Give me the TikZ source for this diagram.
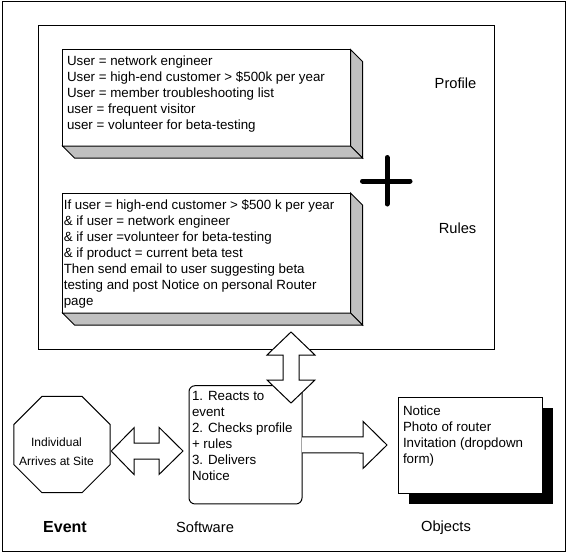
\documentclass[tikz,border=0pt]{standalone}
\usepackage{fontspec}
\setmainfont{Liberation Sans}
\usetikzlibrary{shapes.geometric,positioning,calc,shadows}

\definecolor{facegray}{HTML}{C0C0C0}

\tikzset{
  box/.style={draw, fill=white, anchor=north west, inner sep=0pt, outer sep=0pt},
  face/.style={draw, fill=facegray, line join=miter},
  txt/.style={anchor=north west, inner sep=0pt, align=left, font=\fontsize{10pt}{12pt}\selectfont},
  heading/.style={inner sep=0pt, font=\fontsize{11pt}{13pt}\selectfont},
  blockarrow/.style={draw, fill=white, line join=miter},
}

\begin{document}
\begin{tikzpicture}[x=0.75pt, y=-0.75pt, line width=0.75pt]
    \useasboundingbox (0,0) rectangle (567,554);

    % frames
    \draw (2.5,1.5) rectangle (565.5,551.5);
    \node[box, minimum width=342pt, minimum height=243pt] (db) at (38.5,25.5) {};

    % profile
    \node[box, minimum width=216pt, minimum height=72.4pt] (profile) at (62.5,49.5) {};
    \draw[face] (profile.north east) -- ++(12,12) -- ($(profile.south east)+(12,12)$) -- (profile.south east) -- cycle;
    \draw[face] (profile.south west) -- ++(12,12) -- ($(profile.south east)+(12,12)$) -- (profile.south east) -- cycle;
    \node[txt] (proftxt) at ($(profile.north west)+(4,6)$) {User = network engineer\\User = high-end customer > \$500k per year\\User = member troubleshooting list\\user = frequent visitor\\user = volunteer for beta-testing};
    \node[heading] (proflabel) at (455.5,83) {Profile};

    % rules
    \node[box, minimum width=216pt, minimum height=90pt] (rules) at (62.5,193) {};
    \draw[face] (rules.north east) -- ++(12,12) -- ($(rules.south east)+(12,12)$) -- (rules.south east) -- cycle;
    \draw[face] (rules.south west) -- ++(12,12) -- ($(rules.south east)+(12,12)$) -- (rules.south east) -- cycle;
    \node[txt] (rulestxt) at ($(rules.north west)+(0.8,6.6)$) {If user = high-end customer > \$500 k per year\\\& if user = network engineer\\\& if user =volunteer for beta-testing\\\& if product = current beta test\\Then send email to user suggesting beta\\testing and post Notice on personal Router\\page};
    \node[heading] (ruleslabel) at (457.5,228) {Rules};

    % plus
    \draw[line width=3.75pt, line cap=round] (387,157.5) -- (387,204) (362.5,181) -- (410,181);

    % event
    \node[draw, fill=white, regular polygon, regular polygon sides=8, minimum size=78.3pt, inner sep=0pt, outer sep=0pt] (site) at (62,444.5) {};
    \node[align=center, inner sep=0pt, font=\fontsize{9pt}{14.25pt}\selectfont] (sitetxt) at (56.5,451.5) {Individual\\Arrives at Site};

    % software
    \node[box, rounded corners=4.5pt, minimum width=84.75pt, minimum height=88.7pt] (sw) at (189,385.7) {};
    \node[txt] (swtxt) at ($(sw.north west)+(2.5,5.5)$) {1. Reacts to\\event\\2. Checks profile\\+ rules\\3. Delivers\\Notice};

    % objects
    \node[box, minimum width=108pt, minimum height=72pt,
          drop shadow={shadow xshift=8.25pt, shadow yshift=-8.25pt, fill=black, opacity=1}] (obj) at (398,397) {};
    \node[txt] (objtxt) at ($(obj.north west)+(4.5,8.5)$) {Notice\\Photo of router\\Invitation (dropdown\\form)};

    % block arrows
    \coordinate (up) at (291,332);
    \coordinate (dn) at (291,403);
    \draw[blockarrow] (up) -- ++(24,23) -- ++(-16,0) -- ++(0,25) -- ++(16,0) -- (dn)
        -- ++(-24,-23) -- ++(16,0) -- ++(0,-25) -- ++(-16,0) -- cycle;

    \coordinate (lt) at ($(site.east)+(1,6.5)$);
    \coordinate (rt) at (183,451);
    \draw[blockarrow] (lt) -- ++(23,-23.5) -- ++(0,15.5) -- ++(25,0) -- ++(0,-15.5) -- (rt)
        -- ++(-24,23.5) -- ++(0,-15.5) -- ++(-25,0) -- ++(0,15.5) -- cycle;

    \coordinate (tip) at ($(obj.west)+(-11,0)$);
    \draw[blockarrow] ($(sw.east)+(0,-8)$) -- ++(61,0) -- ++(0,-15.5) -- (tip)
        -- ++(-24,23.5) -- ++(0,-15.5) -- ($(sw.east)+(0,8)$);

    % labels
    \node[inner sep=0pt, font=\fontsize{12pt}{14pt}\selectfont\bfseries] (eventlabel) at (65,527) {Event};
    \node[heading] (swlabel) at (205,527.5) {Software};
    \node[heading] (objlabel) at (446,527.5) {Objects};
\end{tikzpicture}
\end{document}
